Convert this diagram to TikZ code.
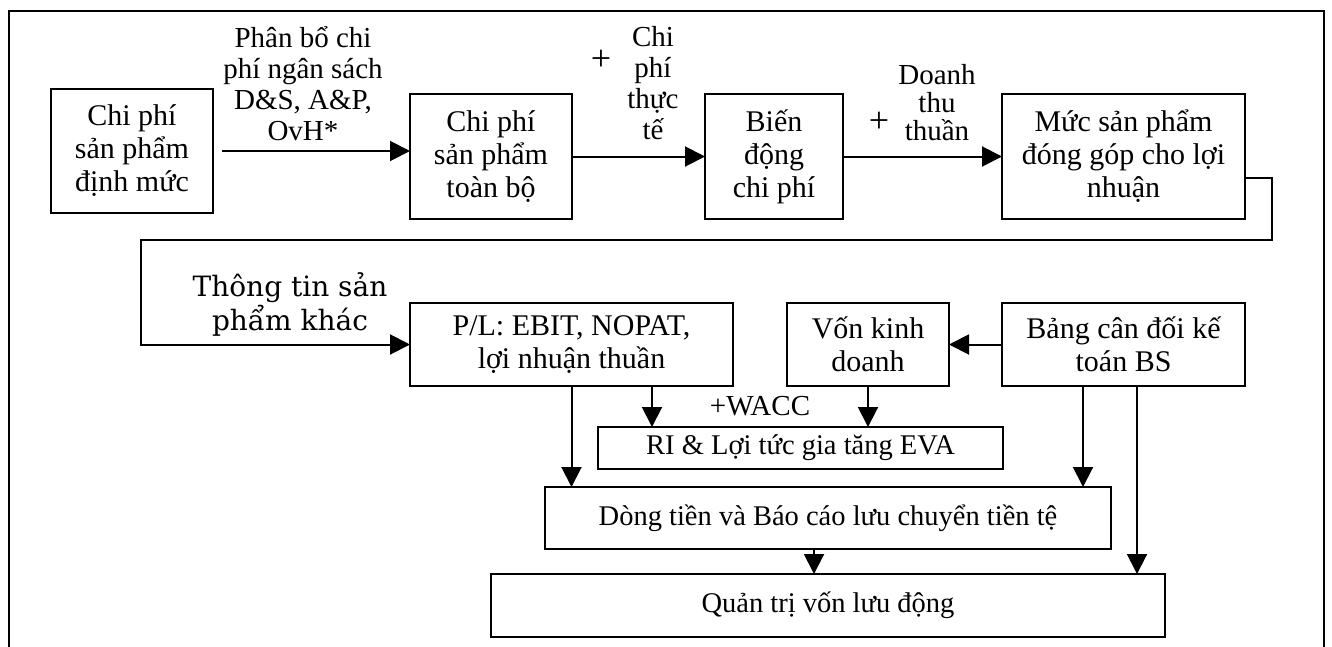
\documentclass[tikz,border=0pt]{standalone}
\usepackage{fontspec}
\setmainfont{Liberation Serif}
\newfontfamily\labelfont{DejaVu Serif}
\usetikzlibrary{arrows.meta}

\begin{document}
\begin{tikzpicture}[x=1pt,y=-1pt,
  every node/.style={inner sep=0pt, outer sep=0pt},
  box/.style={draw, line width=2pt, align=center, font=\fontsize{30}{33}\selectfont},
  widebox/.style={box, font=\fontsize{28.5}{33}\selectfont},
  tag/.style={align=center, font=\fontsize{29}{31}\selectfont},
  plus/.style={font=\fontsize{36}{36}\selectfont},
  link/.style={line width=2pt},
  arr/.style={link, -{Triangle[length=20pt,width=20pt]}},
]
\useasboundingbox (0,0) rectangle (1332,646);

% outer frame (open at the bottom)
\draw[link] (9,660) -- (9,11) -- (1324,11) -- (1324,660);

% first row
\node[box, minimum width=162pt, minimum height=124pt] (b1) at (132,151) {Chi phí\\sản phẩm\\định mức};
\node[box, minimum width=162pt, minimum height=125pt] (b2) at (491,156.5) {Chi phí\\sản phẩm\\toàn bộ};
\node[box, minimum width=138pt, minimum height=125pt] (b3) at (774,156.5) {Biến\\động\\chi phí};
\node[box, minimum width=243pt, minimum height=125pt] (b4) at (1123.5,156.5) {Mức sản phẩm\\đóng góp cho lợi\\nhuận};

% second row
\node[box, minimum width=323pt, minimum height=83pt] (pl) at (571.5,344.5) {P/L: EBIT, NOPAT,\\lợi nhuận thuần};
\node[box, minimum width=162pt, minimum height=83pt] (von) at (868,344.5) {Vốn kinh\\doanh};
\node[box, minimum width=243pt, minimum height=83pt] (bs) at (1123.5,344.5) {Bảng cân đối kế\\toán BS};

% lower rows
\node[widebox, minimum width=405pt, minimum height=42pt] (ri) at (800.5,448) {RI \& Lợi tức gia tăng EVA};
\node[widebox, minimum width=566pt, minimum height=62pt] (dong) at (828,518) {Dòng tiền và Báo cáo lưu chuyển tiền tệ};
\node[widebox, minimum width=674pt, minimum height=63pt] (qt) at (828,605.5) {Quản trị vốn lưu động};

% labels on the connectors
\node[tag] (lab1) at (303,84) {Phân bổ chi\\phí ngân sách\\D\&S, A\&P,\\OvH*};
\node[plus] (plus2) at (601,60) {+};
\node[tag] (lab2) at (653,83) {Chi\\phí\\thực\\tế};
\node[plus] (plus3) at (879,122) {+};
\node[tag, font=\fontsize{29}{28}\selectfont] (lab3) at (937,103) {Doanh\\thu\\thuần};
\node[tag, font=\labelfont\fontsize{28}{34}\selectfont] (lab4) at (290,304) {Thông tin sản\\phẩm khác};
\node[tag] (wacc) at (760,406) {+WACC};

% helper columns for vertical connectors
\coordinate (xa) at (652,0);
\coordinate (xb) at (1083,0);
\coordinate (xc) at (1137,0);
\coordinate (xd) at (814,0);
\coordinate (l1) at (141,240);

% connectors
\draw[arr] ([xshift=9pt]b1.east) -- (b1.east -| b2.west);
\draw[arr] (b2.east) -- (b3.west);
\draw[arr] (b3.east) -- (b4.west);
\draw[arr] ([yshift=-21.5pt]b4.east) -- ++(27,0) |- (l1) |- (pl.west);
\draw[arr] (bs.west) -- (von.east);
\draw[arr] (pl.south -| xa) -- (ri.north -| xa);
\draw[arr] (von.south) -- (von.south |- ri.north);
\draw[arr] (pl.south) -- (pl.south |- dong.north);
\draw[arr] (bs.south -| xb) -- (dong.north -| xb);
\draw[arr] (bs.south -| xc) -- (qt.north -| xc);
\draw[arr] (dong.south -| xd) -- (qt.north -| xd);
\end{tikzpicture}
\end{document}
